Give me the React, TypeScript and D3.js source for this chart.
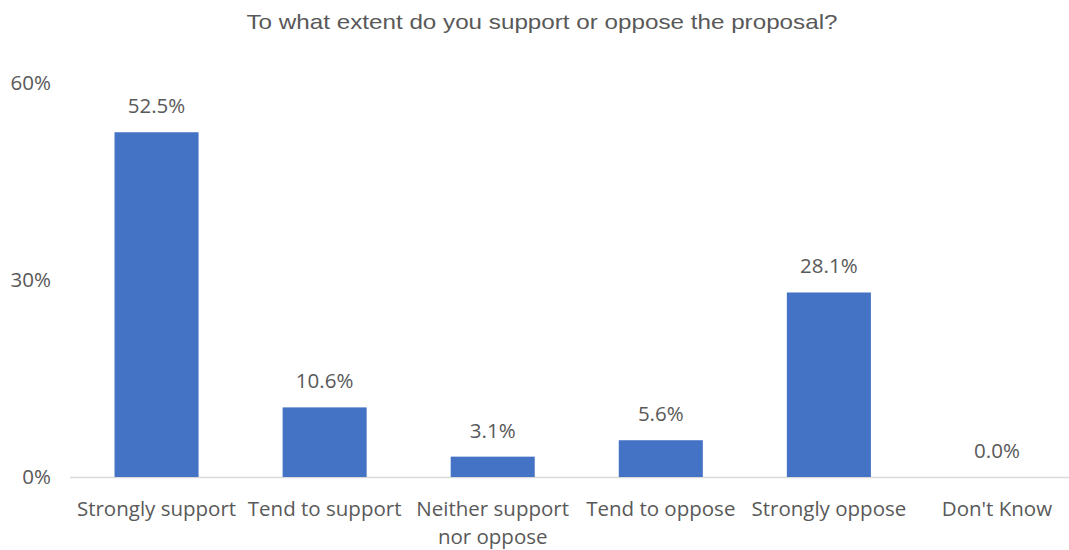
import React from "react";
import * as d3 from "d3";

const title = "To what extent do you support or oppose the proposal?";
const categories = [
  ["Strongly support"],
  ["Tend to support"],
  ["Neither support", "nor oppose"],
  ["Tend to oppose"],
  ["Strongly oppose"],
  ["Don't Know"],
];
const values = [52.5, 10.6, 3.1, 5.6, 28.1, 0.0];
const yTicks = [0, 30, 60];

const W = 1069;
const H = 550;
const FONT = "'Open Sans', Lato, sans-serif";
const FS = 20.5;
const TEXT = "#595959";

export default function App() {
  const ids = categories.map((_, i) => String(i));
  const x = d3.scaleBand<string>().domain(ids).range([72.5, 1081]).paddingInner(0.5).paddingOuter(0.25);
  const y = d3.scaleLinear().domain([0, 60]).range([477, 83]);
  return (
    <svg width={W} height={H} style={{ position: "absolute", left: 0, top: 0, background: "#fff" }}>
      <text x={542} y={29} textAnchor="middle" fontFamily="'Liberation Sans', Arial, sans-serif" fontSize={21} fill={TEXT} textLength={591} lengthAdjust="spacingAndGlyphs">
        {title}
      </text>
      {yTicks.map((t) => (
        <text key={t} x={51} y={y(t)} dy="0.35em" textAnchor="end" fontFamily={FONT} fontSize={FS} fill={TEXT}>
          {t}%
        </text>
      ))}
      <line x1={70} x2={W} y1={y(0) + 0.5} y2={y(0) + 0.5} stroke="#d9d9d9" strokeWidth={1.5} />
      {values.map((v, i) => {
        const bx = x(String(i))!;
        const cx = bx + x.bandwidth() / 2;
        return (
          <g key={i}>
            {v > 0 && <rect x={bx} y={y(v)} width={x.bandwidth()} height={y(0) - y(v)} fill="#4472C4" />}
            <text x={cx} y={y(v) - 19} textAnchor="middle" fontFamily={FONT} fontSize={FS} fill={TEXT}>
              {v.toFixed(1)}%
            </text>
            {categories[i].map((line, j) => (
              <text key={j} x={cx} y={516 + j * 27.5} textAnchor="middle" fontFamily={FONT} fontSize={FS} fill={TEXT}>
                {line}
              </text>
            ))}
          </g>
        );
      })}
    </svg>
  );
}
